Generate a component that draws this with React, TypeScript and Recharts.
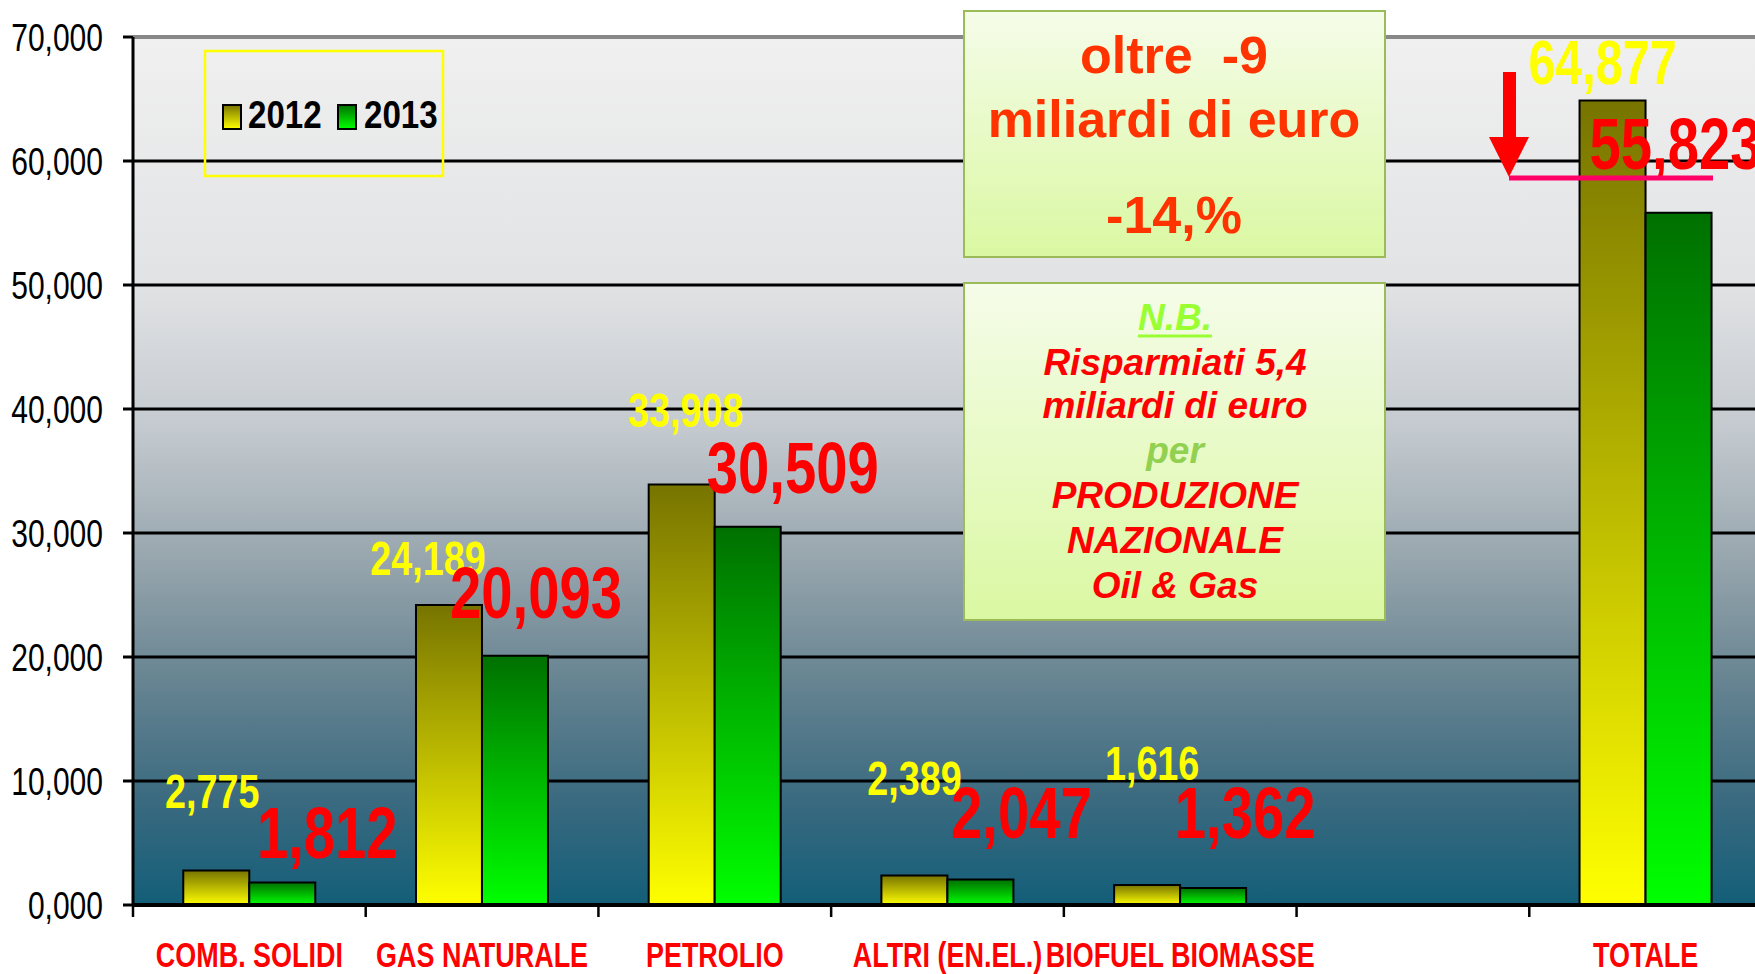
import React from 'react';
import { BarChart, Bar, XAxis, YAxis, CartesianGrid, LabelList, ReferenceLine } from 'recharts';

const categories = ['COMB. SOLIDI', 'GAS NATURALE', 'PETROLIO', 'ALTRI (EN.EL.)', 'BIOFUEL BIOMASSE', '', 'TOTALE'];
const series2012: (number | null)[] = [2775, 24189, 33908, 2389, 1616, null, 64877];
const series2013: (number | null)[] = [1812, 20093, 30509, 2047, 1362, null, 55823];
const yTicks = [0, 10000, 20000, 30000, 40000, 50000, 60000, 70000];
const seriesNames = ['2012', '2013'];

const data = categories.map((c, i) => ({ cat: c, v2012: series2012[i], v2013: series2013[i] }));

// label layout (offsets of baseline-centre from bar top-centre, in px) and sizes
const OFF_2012 = [[-4, -63], [-21, -30], [4, -58], [0, -80], [5, -105], [0, 0], [-10, -17]];
const OFF_2013 = [[45, -25], [21, -38], [45, -34], [41, -42], [32, -50], [0, 0], [-3, -44]];
const SIZE_2012 = [49, 49, 49, 49, 49, 49, 63];
const SIZE_2013 = [73, 73, 73, 73, 73, 73, 73];

const ARIAL = "'Liberation Sans', Arial, sans-serif";
const SQUEEZE = 0.77;

const CHART_W = 1770;
const CHART_H = 974;
const PLOT_LEFT = 133;
const PLOT_RIGHT = 1762;
const PLOT_TOP = 37;
const PLOT_BOTTOM = 905;
const BAND = (PLOT_RIGHT - PLOT_LEFT) / categories.length;

const fmt = (v: number) => v.toLocaleString('en-US');

type NProps = { x: number; y: number; size: number; fill: string; anchor?: string; bold?: boolean; sx?: number; children: any };
const NText = ({ x, y, size, fill, anchor = 'middle', bold = true, sx = SQUEEZE, children }: NProps) => (
  <text transform={`translate(${x},${y}) scale(${sx},1)`} x={0} y={0} textAnchor={anchor} fill={fill}
    fontFamily={ARIAL} fontWeight={bold ? 'bold' : 'normal'} fontSize={size}>
    {children}
  </text>
);

const makeLabel = (offs: number[][], sizes: number[], color: string, values: (number | null)[]) => (props: any) => {
  const vb = props.viewBox ?? props;
  const x = vb.x ?? props.x;
  const y = vb.y ?? props.y;
  const width = vb.width ?? props.width;
  const value = props.value;
  if (value == null || x == null) return null;
  const index = values.indexOf(Number(value));
  const [dx, dy] = offs[index] || [0, 0];
  return (
    <NText x={x + width / 2 + dx} y={y + dy} size={sizes[index] || 49} fill={color}>
      {fmt(Number(value))}
    </NText>
  );
};

const YTick = (props: any) => {
  const { y, payload } = props;
  const v = payload.value as number;
  const label = `${v / 1000},000`;
  return (
    <NText x={103} y={y + 13.5} size={38} fill="#000" anchor="end" bold={false} sx={0.79}>
      {label}
    </NText>
  );
};

const XTick = (props: any) => {
  const { x, payload } = props;
  const left = x - BAND / 2;
  return (
    <g>
      <line x1={left} y1={PLOT_BOTTOM} x2={left} y2={PLOT_BOTTOM + 12} stroke="#000" strokeWidth={2.5} />
      <NText x={x} y={967} size={35} fill="#ff0000">{payload.value}</NText>
    </g>
  );
};

const Defs = () => (
  <svg width={0} height={0} style={{ position: 'absolute' }}>
    <defs>
      <linearGradient id="g2012" x1="0" y1="0" x2="0" y2="1">
        <stop offset="0" stopColor="#777400" />
        <stop offset="1" stopColor="#ffff00" />
      </linearGradient>
      <linearGradient id="g2013" x1="0" y1="0" x2="0" y2="1">
        <stop offset="0" stopColor="#007000" />
        <stop offset="1" stopColor="#00ff00" />
      </linearGradient>
      <linearGradient id="bgGrad" x1="0" y1="0" x2="0" y2="1">
        <stop offset="0" stopColor="#f0f0f0" />
        <stop offset="0.28" stopColor="#e2e3e5" />
        <stop offset="0.45" stopColor="#c4cacf" />
        <stop offset="0.6" stopColor="#98a6ae" />
        <stop offset="0.75" stopColor="#648290" />
        <stop offset="0.88" stopColor="#3a6a80" />
        <stop offset="1" stopColor="#135e78" />
      </linearGradient>
      <linearGradient id="boxGrad" x1="0" y1="0" x2="0" y2="1">
        <stop offset="0" stopColor="#f5fce9" />
        <stop offset="1" stopColor="#daf8a2" />
      </linearGradient>
    </defs>
  </svg>
);

const Overlay = () => (
  <svg width={1755} height={974} style={{ position: 'absolute', left: 0, top: 0, pointerEvents: 'none' }}>
    {/* legend */}
    <rect x={205} y={51} width={238} height={125} fill="none" stroke="#ffff00" strokeWidth={2.5} />
    <rect x={223} y={105} width={18} height={24} fill="url(#g2012)" stroke="#000" strokeWidth={2} />
    <NText x={248} y={128} size={39} fill="#000" anchor="start" sx={0.85}>{seriesNames[0]}</NText>
    <rect x={338} y={105} width={18} height={24} fill="url(#g2013)" stroke="#000" strokeWidth={2} />
    <NText x={364} y={128} size={39} fill="#000" anchor="start" sx={0.85}>{seriesNames[1]}</NText>

    {/* box 1 */}
    <rect x={964} y={11} width={421} height={246} fill="url(#boxGrad)" stroke="#9bbb59" strokeWidth={2} />
    <g fontFamily={ARIAL} fontWeight="bold" fontSize={52} fill="#ff3300" textAnchor="middle">
      <text x={1174} y={73} style={{ whiteSpace: 'pre' }}>{'oltre  -9'}</text>
      <text x={1174} y={137}>miliardi di euro</text>
      <text x={1174} y={233}>-14,%</text>
    </g>

    {/* box 2 */}
    <rect x={964} y={283} width={421} height={337} fill="url(#boxGrad)" stroke="#9bbb59" strokeWidth={2} />
    <g fontFamily={ARIAL} fontWeight="bold" fontStyle="italic" fontSize={37} textAnchor="middle">
      <text x={1175} y={330} fill="#99ff33">N.B.</text>
      <line x1={1138} y1={336} x2={1212} y2={336} stroke="#99ff33" strokeWidth={3} />
      <text x={1175} y={375} fill="#ff0000">Risparmiati 5,4</text>
      <text x={1175} y={418} fill="#ff0000">miliardi di euro</text>
      <text x={1175} y={463} fill="#92d050">per</text>
      <text x={1175} y={508} fill="#ff0000">PRODUZIONE</text>
      <text x={1175} y={553} fill="#ff0000">NAZIONALE</text>
      <text x={1175} y={598} fill="#ff0000">Oil &amp; Gas</text>
    </g>

    {/* arrow and line */}
    <rect x={1503} y={72} width={13} height={66} fill="#ff0000" />
    <polygon points="1489,137 1529,137 1509,177" fill="#ff0000" />
    <line x1={1509} y1={178} x2={1713} y2={178} stroke="#ff0066" strokeWidth={5} />
  </svg>
);

export default function App() {
  return (
    <div style={{ position: 'relative', width: 1755, height: 974, overflow: 'hidden', background: '#fff' }}>
      <style>{'body{margin:0;}'}</style>
      <Defs />
      <BarChart width={CHART_W} height={CHART_H} data={data}
        margin={{ top: PLOT_TOP, right: CHART_W - PLOT_RIGHT, bottom: 0, left: 0 }}
        barGap={0} barCategoryGap="21.6%">
        <CartesianGrid vertical={false} stroke="#000" strokeWidth={3} fill="url(#bgGrad)" fillOpacity={1} />
        <ReferenceLine y={70000} stroke="#888" strokeWidth={4} />
        <XAxis dataKey="cat" height={CHART_H - PLOT_BOTTOM} interval={0} tickLine={false}
          axisLine={{ stroke: '#000', strokeWidth: 4 }} tick={<XTick />} />
        <YAxis width={PLOT_LEFT} domain={[0, 70000]} ticks={yTicks} interval={0}
          axisLine={{ stroke: '#000', strokeWidth: 3 }} tickLine={{ stroke: '#000', strokeWidth: 3 }} tickSize={10}
          tick={<YTick />} />
        <Bar dataKey="v2012" fill="url(#g2012)" stroke="#000" strokeWidth={2} isAnimationActive={false}>
          <LabelList dataKey="v2012" content={makeLabel(OFF_2012, SIZE_2012, '#ffff00', series2012)} />
        </Bar>
        <Bar dataKey="v2013" fill="url(#g2013)" stroke="#000" strokeWidth={2} isAnimationActive={false}>
          <LabelList dataKey="v2013" content={makeLabel(OFF_2013, SIZE_2013, '#ff0000', series2013)} />
        </Bar>
      </BarChart>
      <Overlay />
    </div>
  );
}
